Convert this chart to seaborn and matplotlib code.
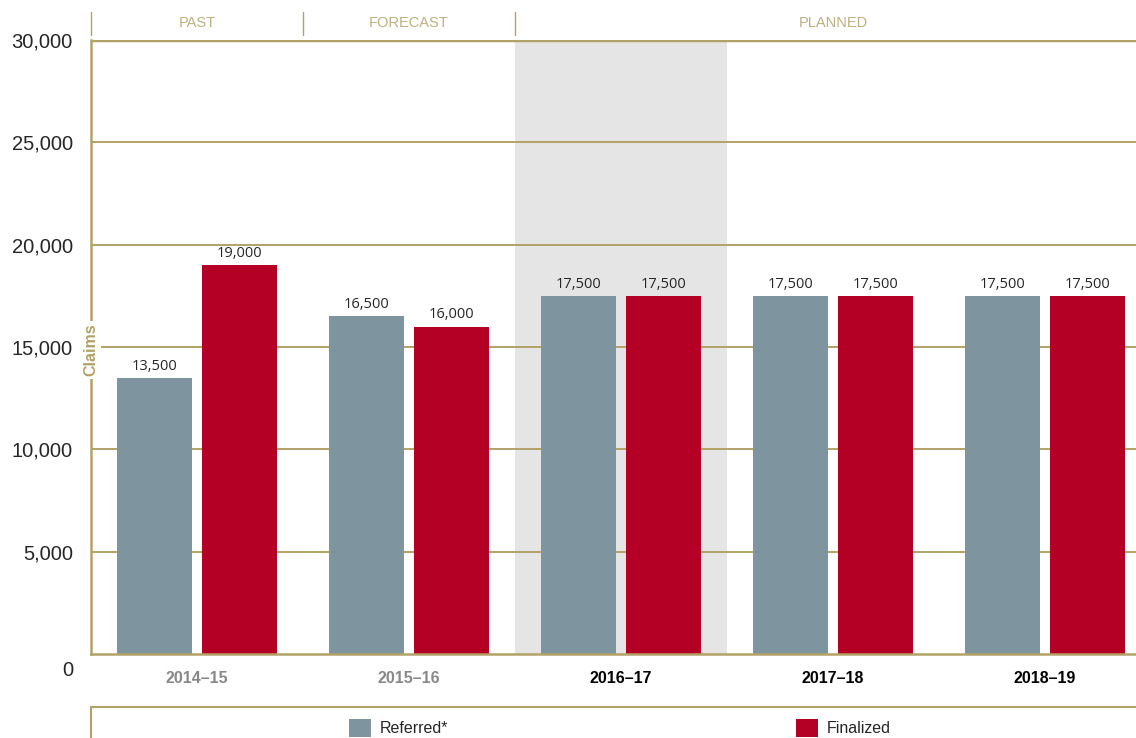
import matplotlib
matplotlib.use("Agg")
import matplotlib.pyplot as plt
import matplotlib.transforms as mtransforms
from matplotlib.lines import Line2D
from matplotlib.patches import Patch
import seaborn as sns
import pandas as pd

# Données du graphique
years = ['2014–15', '2015–16', '2016–17', '2017–18', '2018–19']
referred = [13500, 16500, 17500, 17500, 17500]
finalized = [19000, 16000, 17500, 17500, 17500]
series_names = ['Referred*', 'Finalized']
periods = ['PAST', 'FORECAST', 'PLANNED']
yticks = [0, 5000, 10000, 15000, 20000, 25000, 30000]

GREY = '#7E95A0'
RED = '#B50026'
GOLD = '#B2A268'
SHADE = '#E5E5E5'

df = pd.DataFrame({
    'year': years * 2,
    'claims': referred + finalized,
    'series': [series_names[0]] * len(years) + [series_names[1]] * len(years),
})

sns.set_style('white')
plt.rcParams['font.family'] = ['Liberation Sans', 'DejaVu Sans']

fig = plt.figure(figsize=(11.36, 7.38), dpi=100)
W, H = 1136, 738
GROUP = 212
ax = fig.add_axes([91 / W, 84 / H, 1 - 91 / W, 614 / H])

# Zone ombrée pour l'année en cours
ax.axvspan(1.5, 2.5, color=SHADE, zorder=0, lw=0)

# Lignes horizontales dorées
for y in yticks[1:]:
    ax.axhline(y, color=GOLD, lw=2.5 if y == 30000 else 1.4, zorder=1)

sns.barplot(data=df, x='year', y='claims', hue='series', palette=[GREY, RED],
            width=0.8, gap=0.12, saturation=1, ax=ax, zorder=2, legend=False,
            linewidth=0)

ax.set_xlim(-0.5, -0.5 + (W - 91) / GROUP)
ax.set_ylim(0, 30000)
ax.set_yticks(yticks)
ax.set_yticklabels([f'{v:,}' for v in yticks], fontsize=14.5)
ax.set_xlabel('')
ax.set_ylabel('')

# Étiquettes des barres
for container in ax.containers:
    texts = ax.bar_label(container, labels=[f'{v:,.0f}' for v in container.datavalues],
                         padding=3, fontsize=10.5, family=['Open Sans', 'DejaVu Sans'])
    texts[2].set_fontweight('medium')

# Ticks
ax.tick_params(axis='y', length=0, pad=13)
ax.tick_params(axis='x', length=0, pad=12)
for i, lbl in enumerate(ax.get_xticklabels()):
    lbl.set_fontweight('bold')
    lbl.set_fontsize(11.5)
    lbl.set_color('#888888' if i < 2 else 'black')

zero_lbl = ax.get_yticklabels()[0]
zero_lbl.set_transform(zero_lbl.get_transform() +
                       mtransforms.ScaledTranslation(0, -0.15, fig.dpi_scale_trans))

for side in ['top', 'right']:
    ax.spines[side].set_visible(False)
for side in ['left', 'bottom']:
    ax.spines[side].set_color(GOLD)
    ax.spines[side].set_linewidth(1.8)

# Titre de l'axe Y
ax.text(0, 0.495, 'Claims', transform=ax.transAxes, rotation=90, ha='center', va='center',
        color=GOLD, fontsize=11.5, fontweight='bold',
        bbox=dict(facecolor='white', edgecolor='none', pad=2), zorder=5)

# En-tête des périodes
bounds = [91, 91 + GROUP, 91 + 2 * GROUP, 91 + 5 * GROUP]
for x in bounds[:3]:
    fig.add_artist(Line2D([x / W, x / W], [1 - 12 / H, 1 - 35 / H], color=GOLD, lw=1))
for i, name in enumerate(periods):
    xc = (bounds[i] + bounds[i + 1]) / 2 / W
    fig.text(xc, 1 - 23 / H, name, ha='center', va='center', color='#BDAF80', fontsize=10.5,
             family=['Liberation Sans Narrow', 'Liberation Sans'], fontweight='light')

# Cadre de la légende
fig.add_artist(Line2D([91 / W, 1], [1 - 707 / H, 1 - 707 / H], color=GOLD, lw=1.5))
fig.add_artist(Line2D([91 / W, 91 / W], [1 - 707 / H, 0], color=GOLD, lw=1.5))

handles = [Patch(facecolor=GREY, edgecolor='none'), Patch(facecolor=RED, edgecolor='none')]
fig.legend(handles, series_names, loc='lower left', bbox_to_anchor=(349 / W, 1 / H),
           ncol=2, frameon=False, fontsize=11.5, handlelength=1.4, handleheight=1.4,
           handletextpad=0.5, columnspacing=21.8, borderaxespad=0, borderpad=0)

fig.savefig('out.png', dpi=100)
